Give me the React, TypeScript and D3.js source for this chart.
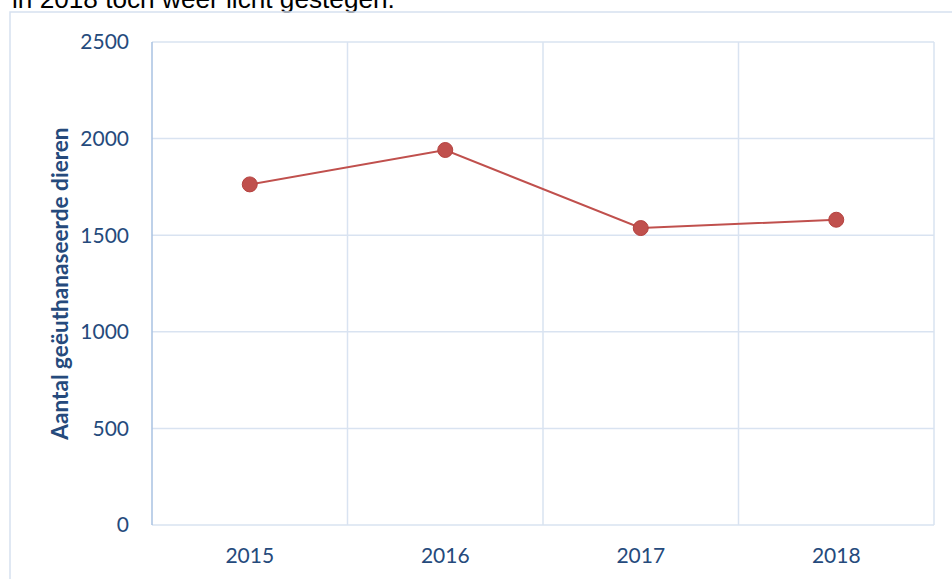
import React from 'react';
import * as d3 from 'd3';

const years = ['2015', '2016', '2017', '2018'];
const euthanized = [1763, 1941, 1537, 1580];
const yTicks = [0, 500, 1000, 1500, 2000, 2500];

const W = 952;
const H = 579;
const plot = { left: 152, right: 934, top: 42, bottom: 525 };
const labelColor = '#254a7c';
const gridColor = '#d9e3f1';
const lineColor = '#c0504d';
const labelFont = 'Lato, "Open Sans", sans-serif';

export default function App() {
  const x = d3.scaleBand<string>().domain(years).range([plot.left, plot.right]).paddingInner(0).paddingOuter(0);
  const y = d3.scaleLinear().domain([0, 2500]).range([plot.bottom, plot.top]);

  const pts = years.map((yr, i) => [x(yr)! + x.bandwidth() / 2, y(euthanized[i])] as [number, number]);
  const line = d3.line();

  const bounds = years.map((yr) => x(yr)!).concat([plot.right]);

  return (
    <svg width={W} height={H} style={{ position: 'absolute', left: 0, top: 0, background: '#fff' }}>
      <text x={12} y={7.5} fontFamily='"Liberation Sans", Arial, sans-serif' fontSize={26.2} fill="#000">
        in 2018 toch weer licht gestegen.
      </text>
      {/* outer chart border */}
      <rect x={10} y={12} width={W} height={H} fill="none" stroke="#d6e1f0" strokeWidth={1.5} />

      {/* horizontal grid */}
      {yTicks.map((t) => (
        <line key={t} x1={plot.left} x2={plot.right} y1={y(t)} y2={y(t)} stroke={gridColor} strokeWidth={1.5} />
      ))}
      {/* vertical grid */}
      {bounds.map((b, i) => (
        <line key={i} x1={b} x2={b} y1={plot.top} y2={plot.bottom} stroke={i === 0 ? '#a9c2e2' : gridColor} strokeWidth={1.5} />
      ))}

      {/* y tick labels */}
      {yTicks.map((t) => (
        <text key={t} x={129} y={y(t)} dy="0.35em" textAnchor="end" fontFamily={labelFont} fontSize={21} fill={labelColor}>
          {t}
        </text>
      ))}
      {/* x tick labels */}
      {years.map((yr) => (
        <text key={yr} x={x(yr)! + x.bandwidth() / 2} y={563} textAnchor="middle" fontFamily={labelFont} fontSize={21} fill={labelColor}>
          {yr}
        </text>
      ))}

      <text
        transform={`translate(68,${(plot.top + plot.bottom) / 2}) rotate(-90)`}
        textAnchor="middle"
        fontFamily={labelFont}
        fontWeight="bold"
        fontSize={22.6}
        fill={labelColor}
      >
        Aantal geëuthanaseerde dieren
      </text>

      <path d={line(pts) || ''} fill="none" stroke={lineColor} strokeWidth={2} />
      {pts.map((p, i) => (
        <circle key={i} cx={p[0]} cy={p[1]} r={7.5} fill={lineColor} stroke="#b5423f" strokeWidth={1} />
      ))}
    </svg>
  );
}
